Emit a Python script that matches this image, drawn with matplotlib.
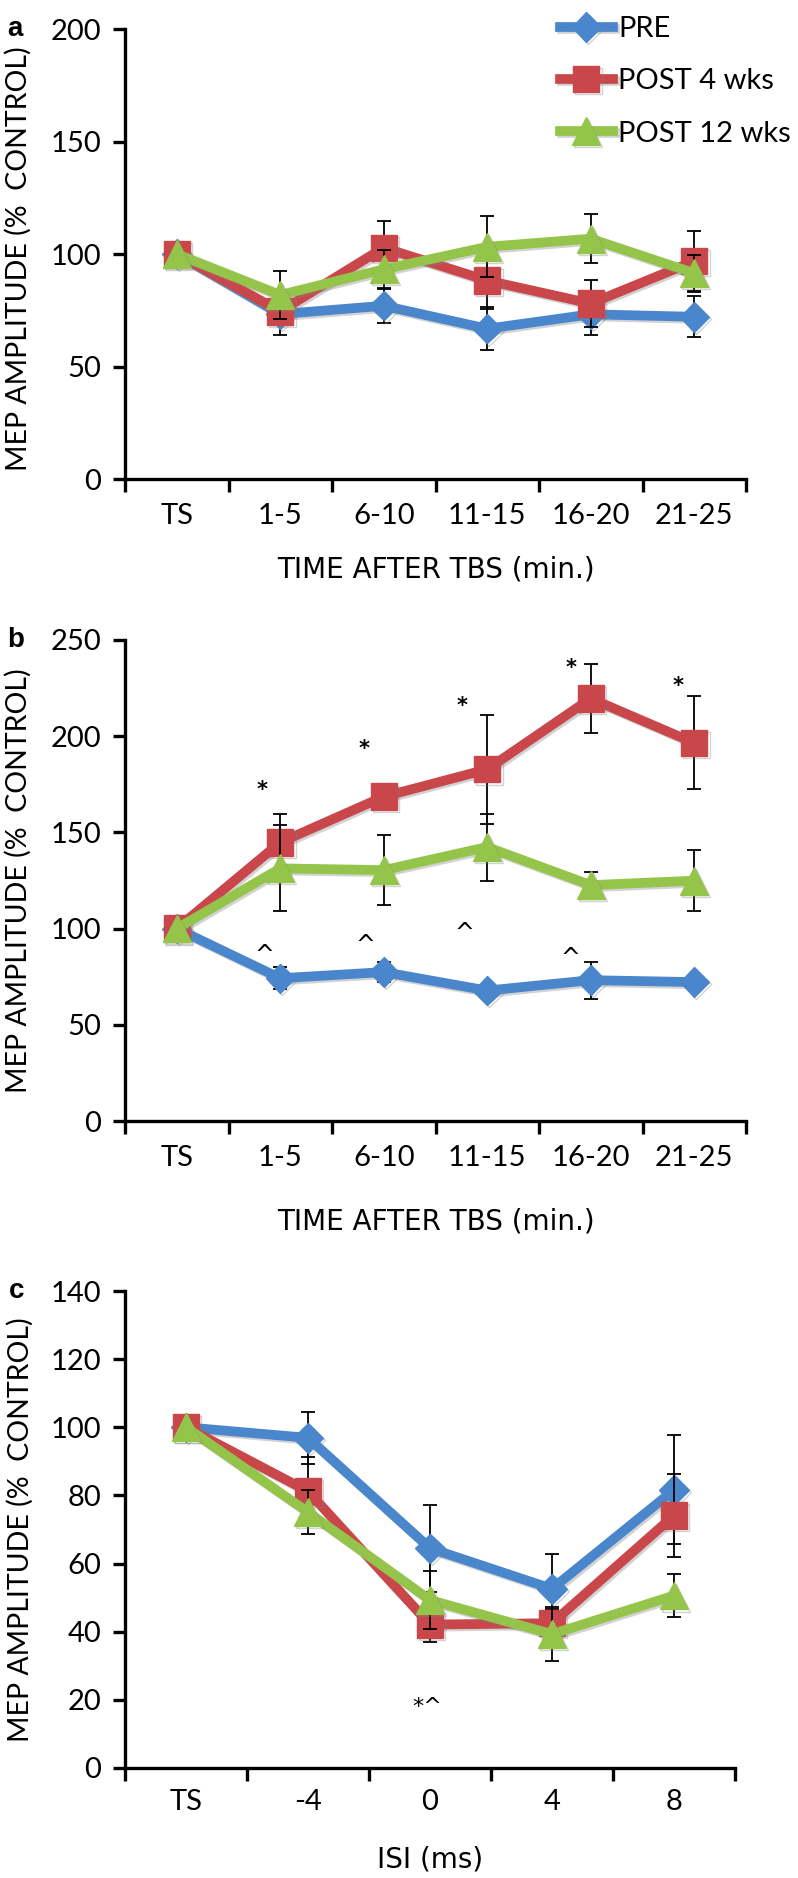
import numpy as np
import matplotlib
matplotlib.use('Agg')
import matplotlib.pyplot as plt
import matplotlib.patheffects as pe

plt.rcParams['font.family'] = ['Lato', 'DejaVu Sans']

# categorias
cats_ab = ['TS', '1-5', '6-10', '11-15', '16-20', '21-25']
cats_c = ['TS', '-4', '0', '4', '8']
series_names = ['PRE', 'POST 4 wks', 'POST 12 wks']

# panel a
a_pre = [100, 73.3, 77.0, 66.8, 73.2, 72.1]
a_pre_err = [0, 9.4, 7.5, 9.5, 9.4, 9.2]
a_post4 = [100, 74.5, 102.8, 88.2, 78.0, 96.8]
a_post4_err = [0, 6.0, 12.0, 12.8, 10.3, 13.5]
a_post12 = [100, 81.8, 93.2, 103.2, 106.8, 91.5]
a_post12_err = [0, 10.5, 8.5, 13.5, 10.8, 8.0]

# panel b
b_pre = [100, 74.2, 77.4, 67.8, 73.2, 72.2]
b_pre_err = [0, 5.6, 5.2, 2.5, 9.6, 2.5]
b_post4 = [100, 144.8, 168.6, 182.8, 219.6, 196.5]
b_post4_err = [0, 14.6, 3.0, 28.2, 18.0, 24.2]
b_post12 = [100, 131.3, 130.4, 142.4, 122.6, 124.9]
b_post12_err = [0, 22.4, 18.2, 17.4, 6.8, 16.0]
b_star_x = [0.82, 1.81, 2.76, 3.81, 4.84]
b_star_y = [175.3, 196.5, 219.0, 238.8, 229.2]
b_caret_x = [0.85, 1.82, 2.78, 3.80]
b_caret_y = [89.6, 94.8, 101.4, 88.2]

# panel c
c_pre = [100, 96.9, 64.5, 52.6, 81.6]
c_pre_err = [0, 7.7, 12.8, 10.2, 16.0]
c_post4 = [100, 81.2, 42.1, 42.5, 74.1]
c_post4_err = [0, 10.2, 5.1, 4.3, 12.2]
c_post12 = [100, 75.1, 49.3, 39.3, 50.6]
c_post12_err = [0, 6.5, 8.6, 8.0, 6.4]
c_mark_x = [1.98]
c_mark_y = [20.0]

colores = ['#4a86cc', '#c9474a', '#95c44a']
marcadores = ['D', 's', '^']
tamanos = [15, 19, 20]

W, H = 798, 1878
fig = plt.figure(figsize=(W / 100, H / 100), dpi=100)


def crear_ejes(left, right, top, bottom):
    return fig.add_axes([left / W, 1 - bottom / H, (right - left) / W, (bottom - top) / H])


def graficar_panel(ax, cats, datos, errores, ymax, ystep, letra, xlabel, tpad, xlab_y, ylab_y=0.5):
    x = np.arange(len(cats))
    sombra = [pe.SimpleLineShadow(offset=(1.5, -1.5), shadow_color='gray', alpha=0.35), pe.Normal()]
    for i in range(3):
        ax.errorbar(x, datos[i], yerr=errores[i], fmt='none', ecolor='black',
                    elinewidth=1.3, capsize=5, capthick=1.3, zorder=2 + i)
        ax.plot(x, datos[i], color=colores[i], lw=7, marker=marcadores[i],
                ms=tamanos[i], mec=colores[i], label=series_names[i],
                zorder=2.5 + i, path_effects=sombra)
    ax.set_xlim(-0.5, len(cats) - 0.5)
    ax.set_ylim(0, ymax)
    ax.set_yticks(np.arange(0, ymax + 1, ystep))
    ax.set_xticks(np.arange(-0.5, len(cats)), labels=[])
    ax.set_xticks(x, labels=cats, minor=True)
    ax.tick_params(axis='both', which='major', direction='out', length=9, width=2.4,
                   labelsize=21, pad=8)
    ax.tick_params(axis='x', which='minor', length=0, labelsize=21, pad=tpad)
    for s in ['top', 'right']:
        ax.spines[s].set_visible(False)
    for s in ['left', 'bottom']:
        ax.spines[s].set_linewidth(2.4)
    ax.set_ylabel('MEP AMPLITUDE (%  CONTROL)', fontsize=20.5)
    ax.yaxis.set_label_coords(-0.15, ylab_y)
    ax.set_xlabel(xlabel, fontsize=20, family=['DejaVu Sans'])
    ax.xaxis.set_label_coords(0.5, xlab_y)
    ax.text(-0.19, 1.0, letra, transform=ax.transAxes, fontsize=20, fontweight='bold',
            family='Liberation Sans', ha='left', va='center')


def anotar(ax, xs, ys, texto, fs=13, peso='normal'):
    for xi, yi in zip(xs, ys):
        ax.annotate(texto, (xi, yi), xytext=(0, -0.58 * fs), textcoords='offset points',
                    ha='center', va='baseline', fontsize=fs, fontweight=peso,
                    family=['DejaVu Sans'])


ax_a = crear_ejes(125, 746, 29, 479)
graficar_panel(ax_a, cats_ab, [a_pre, a_post4, a_post12],
               [a_pre_err, a_post4_err, a_post12_err], 200, 50, 'a',
               'TIME AFTER TBS (min.)', 17, -0.17, ylab_y=0.49)
ax_a.legend(loc='upper left', bbox_to_anchor=(560 / W, 1 - 16 / H),
            bbox_transform=fig.transFigure, frameon=False, fontsize=21,
            handlelength=1.8, handletextpad=0.2, labelspacing=0.9, borderpad=0,
            borderaxespad=0)

ax_b = crear_ejes(125, 746, 640, 1121)
graficar_panel(ax_b, cats_ab, [b_pre, b_post4, b_post12],
               [b_pre_err, b_post4_err, b_post12_err], 250, 50, 'b',
               'TIME AFTER TBS (min.)', 17, -0.18)
anotar(ax_b, b_star_x, b_star_y, '*', fs=15, peso='bold')
anotar(ax_b, b_caret_x, b_caret_y, '^', fs=17)

ax_c = crear_ejes(125, 735, 1291, 1768)
graficar_panel(ax_c, cats_c, [c_pre, c_post4, c_post12],
               [c_pre_err, c_post4_err, c_post12_err], 140, 20, 'c',
               'ISI (ms)', 15, -0.162)
anotar(ax_c, c_mark_x, c_mark_y, '*^', fs=16)

fig.savefig('out.png', dpi=100)
